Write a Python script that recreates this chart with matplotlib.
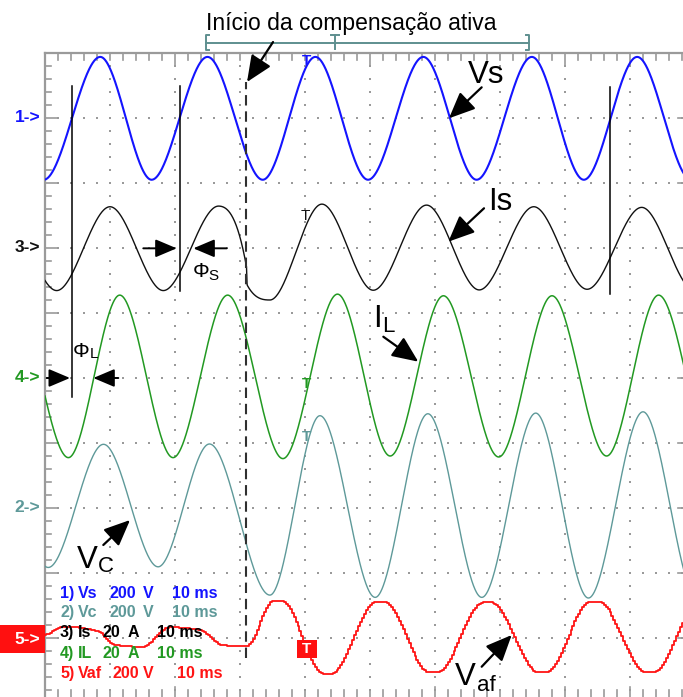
import numpy as np
import matplotlib
matplotlib.use("Agg")
import matplotlib.pyplot as plt
from matplotlib.patches import Rectangle, FancyArrowPatch

plt.rcParams["font.family"] = ["Liberation Sans", "DejaVu Sans"]

# ---------------------------------------------------------------------------
# Oscilloscope record: 10 ms/div horizontally, 10 divisions each way.
# Each trace is given by the turning points read on screen (time in ms,
# value in channel units); a monotone cubic joins consecutive points.
# ---------------------------------------------------------------------------
TIME_PER_DIV = 10.0

channel_ids = [1, 2, 3, 4, 5]
channel_names = ["Vs", "Vc", "Is", "IL", "Vaf"]
channel_scales = [200, 200, 20, 20, 200]          # units per division
channel_units = ["V", "V", "A", "A", "V"]
channel_ground = [9, 3, 7, 5, 1]                   # marker level, divisions
channel_colors = ["#1414ff", "#5e9999", "#111111", "#229922", "#ff1414"]

# 1) source voltage Vs [V]
vs_t = [-8.2, -0.2, 8.5, 16.4, 25.0, 33.5, 41.6, 49.7, 58.2, 66.4, 74.9, 82.9, 91.1, 99.4]
vs_v = [188, -190, 188, -190, 188, -190, 188, -190, 188, -190, 188, -190, 188, -190]

# 2) capacitor voltage Vc [V]
vc_t = [-7.9, 0.5, 9.0, 17.4, 25.3, 34.6, 42.3, 50.8, 58.9, 67.2, 75.5, 83.6, 92.0, 100.3]
vc_v = [196, -183, 196, -181, 197, -268, 284, -275, 290, -275, 292, -277, 296, -277]

# 3) source current Is [A]
is_t = [-6.5, 1.8, 10.0, 18.2, 26.7, 31.0, 31.1, 34.6, 42.6, 50.5, 58.7, 66.8, 75.2, 83.4, 91.8, 99.9]
is_v = [12.5, -13.1, 12.7, -13.1, 12.9, -5.8, -11.4, -16.0, 13.5, -13.0, 13.2, -12.9, 12.7, -12.7, 12.5, -13.0]

# 4) load current IL [A]
il_t = [-5.0, 3.6, 11.5, 19.7, 28.1, 36.6, 45.0, 53.1, 61.3, 69.8, 78.0, 86.4, 94.4, 102.9]
il_v = [25.5, -24.5, 25.5, -24.5, 25.5, -24.8, 25.8, -24.0, 25.3, -24.3, 25.3, -24.0, 25.5, -24.5]

# 5) active filter voltage Vaf [V]
vaf_t = [-2.0, 0.0, 3.1, 8.0, 11.0, 15.1, 19.2, 23.8, 27.4, 31.0, 35.3, 36.4,
         42.9, 44.1, 51.0, 52.2, 59.2, 60.4, 67.5, 68.7, 75.9, 77.1, 84.0, 85.2,
         92.5, 93.7, 100.6, 101.8]
vaf_v = [0, 9, 35, 22, -22, -27, 33, 25, -22, -25, 115, 115,
         -110, -110, 112, 112, -106, -106, 110, 110, -106, -106, 112, 112,
         -106, -106, 112, 112]

trace_t = [vs_t, vc_t, is_t, il_t, vaf_t]
trace_v = [vs_v, vc_v, is_v, il_v, vaf_v]

COMPENSATION_START = 31.0      # ms
CURSOR_TIMES = [4.15, 20.77, 86.92]
TRIGGER_TIME = 40.3


def monotone_cubic(x, y, xq):
    """Fritsch-Carlson monotone cubic through (x, y), evaluated at xq."""
    x = np.asarray(x, float)
    y = np.asarray(y, float)
    h = np.diff(x)
    d = np.diff(y) / h
    m = np.zeros_like(y)
    for k in range(1, len(x) - 1):
        if d[k - 1] * d[k] > 0:
            w1 = 2 * h[k] + h[k - 1]
            w2 = h[k] + 2 * h[k - 1]
            m[k] = (w1 + w2) / (w1 / d[k - 1] + w2 / d[k])
    i = np.clip(np.searchsorted(x, xq) - 1, 0, len(h) - 1)
    s = (xq - x[i]) / h[i]
    h00 = 2 * s**3 - 3 * s**2 + 1
    h10 = s**3 - 2 * s**2 + s
    h01 = -2 * s**3 + 3 * s**2
    h11 = s**3 - s**2
    return h00 * y[i] + h10 * h[i] * m[i] + h01 * y[i + 1] + h11 * h[i] * m[i + 1]


fig = plt.figure(figsize=(6.83, 6.97), dpi=100)
W, H = 683, 697
ax = fig.add_axes([45 / W, (H - 703) / H, 650 / W, 650 / H])
ax.set_xlim(0, 100)
ax.set_ylim(0, 10)
ax.set_xticks([])
ax.set_yticks([])
for side in ["right", "bottom"]:
    ax.spines[side].set_visible(False)
for side in ["left", "top"]:
    ax.spines[side].set_color("#9a9a9a")
    ax.spines[side].set_linewidth(1.6)

PX_T = 100 / 650      # ms per pixel
PX_D = 10 / 650       # div per pixel
GRID = "#9a9a9a"

# graticule dots along each major line
dots_x, dots_y = [], []
for gx in range(10, 100, 10):
    for k in range(1, 50):
        dots_x.append(gx)
        dots_y.append(k * 0.2)
for gy in range(1, 10):
    for k in range(1, 50):
        dots_x.append(k * 2)
        dots_y.append(gy)
ax.scatter(dots_x, dots_y, s=2.0, marker="s", color=GRID, linewidths=0, zorder=1)

# border ticks
long_top = [20, 50, 80, 90]
long_bot = [20, 60, 80, 90]
for k in range(1, 50):
    t = k * 2
    ln = 12 if t in long_top else 7
    ax.plot([t, t], [10, 10 - ln * PX_D], color=GRID, lw=1.2, zorder=1, clip_on=False)
    lb = 16 if t in long_bot else 13
    ax.plot([t, t], [0, lb * PX_D], color=GRID, lw=1.2, zorder=1, clip_on=False)
for k in range(1, 50):
    yv = k * 0.2
    ln = 13 if k % 5 == 0 else 6
    ax.plot([0, ln * PX_T], [yv, yv], color=GRID, lw=1.2, zorder=1)
for gy in range(1, 10):
    ax.plot([100, 100 - 17 * PX_T], [gy, gy], color=GRID, lw=1.2, zorder=1, clip_on=False)

# traces
widths = {"Vs": 1.5, "Vc": 1.0, "Is": 1.0, "IL": 1.1, "Vaf": 1.3}
order = {"Vs": 5, "Vc": 3, "Is": 4, "IL": 4, "Vaf": 5}
tt = np.linspace(0, 100, 2401)
for name, scale, g, col, tp, vp in zip(channel_names, channel_scales, channel_ground,
                                       channel_colors, trace_t, trace_v):
    if name == "Vaf":
        ts = np.arange(0, 100.5, 0.3)
        vals = monotone_cubic(tp, vp, ts)
        ax.plot(ts, g + vals / scale, color=col, lw=widths[name], drawstyle="steps-mid",
                zorder=order[name])
    else:
        vals = monotone_cubic(tp, vp, tt)
        ax.plot(tt, g + vals / scale, color=col, lw=widths[name], zorder=order[name],
                solid_joinstyle="round")

# channel markers on the left edge
for cid, g, col in zip(channel_ids, channel_ground, channel_colors):
    if cid == 5:
        ax.add_patch(Rectangle((-45 * PX_T, g - 15 * PX_D), 45 * PX_T, 28 * PX_D,
                               facecolor="#ff1010", edgecolor="none", clip_on=False, zorder=6))
        ax.text(-5 * PX_T, g - 1 * PX_D, f"{cid}->", color="white", fontsize=12.5,
                fontweight="bold", ha="right", va="center", clip_on=False, zorder=7)
    else:
        ax.text(-5 * PX_T, g, f"{cid}->", color=col, fontsize=12.5, fontweight="bold",
                ha="right", va="center", clip_on=False, zorder=7)

# trigger marks
ax.text(TRIGGER_TIME, 9.877, "T", color=channel_colors[0], fontsize=11, fontweight="bold",
        ha="center", va="center", zorder=8)
ax.text(TRIGGER_TIME - 0.3, 7.49, "T", color=channel_colors[2], fontsize=11,
        ha="center", va="center", zorder=8)
ax.text(TRIGGER_TIME, 4.91, "T", color=channel_colors[3], fontsize=11, fontweight="bold",
        ha="center", va="center", zorder=8)
ax.text(TRIGGER_TIME, 4.085, "T", color=channel_colors[1], fontsize=11, fontweight="bold",
        ha="center", va="center", zorder=8)
ax.add_patch(Rectangle((TRIGGER_TIME - 10 * PX_T, 0.831 - 9 * PX_D), 20 * PX_T, 18 * PX_D,
                       facecolor="#ff1010", edgecolor="none", zorder=8))
ax.text(TRIGGER_TIME, 0.831, "T", color="white", fontsize=11, fontweight="bold",
        ha="center", va="center", zorder=9)

# channel settings readout
row_y = [1.692, 1.385, 1.077, 0.769, 0.4615]
for cid, name, scale, unit, col in zip(channel_ids, channel_names, channel_scales,
                                       channel_units, channel_colors):
    y = row_y[cid - 1]
    c = "#000000" if cid == 3 else col
    kw = dict(color=c, fontsize=11.5, fontweight="bold", va="center", ha="left", zorder=10)
    ax.text(2.31, y, f"{cid})", **kw)
    ax.text(5.08, y, name, **kw)
    if scale >= 100:
        x_s, x_u, x_t = (10.46, 15.08, 20.31) if cid == 5 else (10.0, 15.08, 19.54)
    else:
        x_s, x_u, x_t = 8.77, 12.77, 17.23
    ax.text(x_s, y, f"{scale}", **kw)
    ax.text(x_u, y, unit, **kw)
    ax.text(x_t, y, f"{TIME_PER_DIV:.0f} ms", **kw)

# cursors and compensation start
for tc, top, bot in zip(CURSOR_TIMES, [9.492, 9.492, 9.477], [4.708, 6.338, 6.292]):
    ax.plot([tc, tc], [bot, top], color="black", lw=1.1, zorder=11)
ax.plot([COMPENSATION_START, COMPENSATION_START], [0.692, 9.554], color="#303030",
        lw=1.5, ls=(0, (5, 2.8)), zorder=11)


def arrow(p0, p1, lw=1.6, hl=16, hw=7):
    a = FancyArrowPatch(p0, p1, arrowstyle=f"-|>,head_length={hl / 10},head_width={hw / 10}",
                        mutation_scale=10, color="black", lw=lw, shrinkA=0, shrinkB=0,
                        zorder=12, clip_on=False)
    ax.add_patch(a)


# heading and record bar
ax.text(47.08, 10.354, "Início da compensação ativa", fontsize=16.5, ha="center",
        va="baseline", clip_on=False)
BAR = "#5e8f8f"
ax.plot([24.77, 74.46], [10.158, 10.158], color=BAR, lw=1.4, clip_on=False)
ax.plot([24.77 + 0.5, 24.77, 24.77, 24.77 + 0.5], [10.277, 10.277, 10.046, 10.046],
        color=BAR, lw=1.4, clip_on=False)
ax.plot([74.46 - 0.5, 74.46, 74.46, 74.46 - 0.5], [10.277, 10.277, 10.046, 10.046],
        color=BAR, lw=1.4, clip_on=False)
ax.plot([44.62, 44.62], [10.06, 10.277], color=BAR, lw=1.4, clip_on=False)
ax.plot([44.0, 45.24], [10.277, 10.277], color=BAR, lw=1.4, clip_on=False)
arrow((35.08, 10.169), (31.08, 9.554))

# waveform labels
BIG, SUB = 22.5, 16
ax.text(65.1, 9.534, "Vs", fontsize=BIG, va="baseline", zorder=12)
arrow((67.18, 9.472), (62.15, 8.995))
ax.text(68.15, 7.585, "Is", fontsize=BIG, va="baseline", zorder=12)
arrow((67.54, 7.611), (62.05, 7.097))
ax.text(50.46, 5.79, "I", fontsize=BIG, va="baseline", zorder=12)
ax.text(51.8, 5.71, "L", fontsize=SUB, va="baseline", zorder=12)
arrow((52.05, 5.635), (57.43, 5.251))
ax.text(4.9, 2.07, "V", fontsize=BIG, va="baseline", zorder=12)
ax.text(8.15, 2.02, "C", fontsize=SUB, va="baseline", zorder=12)
arrow((8.97, 2.431), (13.08, 2.815))
ax.text(63.08, 0.277, "V", fontsize=BIG, va="baseline", zorder=12)
ax.text(66.42, 0.185, "af", fontsize=SUB, va="baseline", zorder=12)
arrow((67.18, 0.558), (71.8, 1.046))

# phase angle markers
ax.text(22.77, 6.558, "Φ", fontsize=15, va="baseline", zorder=12)
ax.text(25.12, 6.508, "S", fontsize=11, va="baseline", zorder=12)
arrow((15.12, 6.995), (20.26, 6.995), lw=1.4, hl=13, hw=5.5)
arrow((27.95, 6.995), (22.82, 6.995), lw=1.4, hl=13, hw=5.5)
ax.text(4.31, 5.328, "Φ", fontsize=15, va="baseline", zorder=12)
ax.text(6.92, 5.303, "L", fontsize=11, va="baseline", zorder=12)
arrow((0.26, 5.0), (3.85, 5.0), lw=1.4, hl=13, hw=5.5)
arrow((11.28, 5.0), (7.43, 5.0), lw=1.4, hl=13, hw=5.5)

fig.savefig("out.png", dpi=100)
